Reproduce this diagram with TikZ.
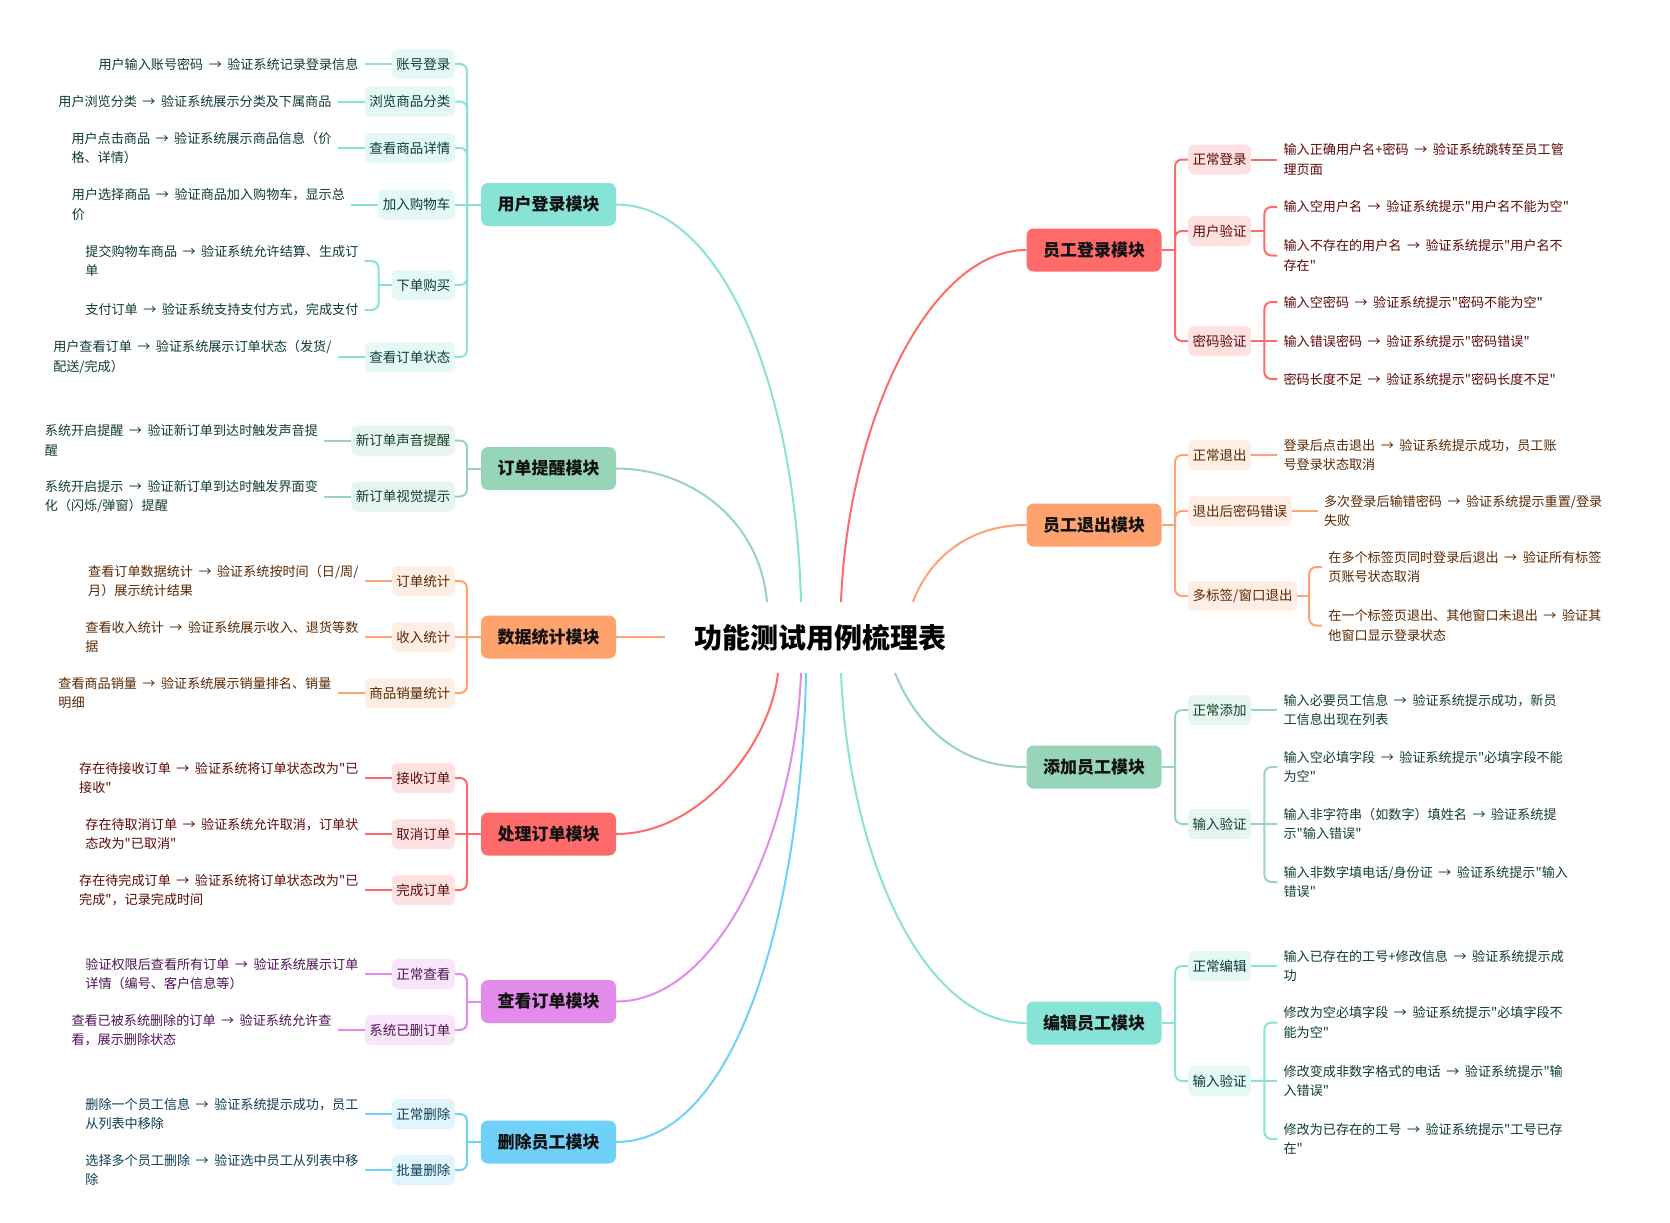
\documentclass[tikz,border=0pt]{standalone}
\usepackage{fontspec}
\setmainfont{Noto Sans CJK SC}[Ligatures=TeXOff]
\usetikzlibrary{calc}
\definecolor{tealL}{HTML}{86E3D6}\definecolor{tealS}{HTML}{E4F8F5}\definecolor{tealT}{HTML}{0D3B36}
\definecolor{greenL}{HTML}{97D5B9}\definecolor{greenS}{HTML}{E6F5EE}\definecolor{greenT}{HTML}{12402C}
\definecolor{orangeL}{HTML}{FFA26E}\definecolor{orangeS}{HTML}{FFEEE4}\definecolor{orangeT}{HTML}{5A2800}
\definecolor{redL}{HTML}{FF6B6B}\definecolor{redS}{HTML}{FFE1E1}\definecolor{redT}{HTML}{5C0A0A}
\definecolor{purpleL}{HTML}{E28BEA}\definecolor{purpleS}{HTML}{FAE6FB}\definecolor{purpleT}{HTML}{4F1157}
\definecolor{blueL}{HTML}{6FD1F7}\definecolor{blueS}{HTML}{E0F5FD}\definecolor{blueT}{HTML}{0C3E55}
\definecolor{modT}{HTML}{111111}
\newcommand\ar{\hspace{5.5pt}→\hspace{5.5pt}}
% left sub node: name, y, colour, label, junction, path op
\newcommand\SubL[6]{%
  \node[subbox, fill=#3S, text=#3T, anchor=east] (#1) at (455,#2) {#4};
  \draw[conline, draw=#3L, rounded corners=7pt] (#5) #6 (#1.east);}
\newcommand\LeafL[3]{%
  \node[leafbox, text=#2T, anchor=east] (#1l) at ([xshift=-27pt]#1.west) {#3};
  \draw[conline, draw=#2L] (#1.west) -- (#1l.east);}
\newcommand\SubR[6]{%
  \node[subbox, fill=#3S, text=#3T, anchor=west] (#1) at (1188,#2) {#4};
  \draw[conline, draw=#3L, rounded corners=7pt] (#5) #6 (#1.west);}
\newcommand\LeafR[3]{%
  \node[leafbox, text=#2T, anchor=west] (#1l) at ([xshift=26pt]#1.east) {#3};
  \draw[conline, draw=#2L] (#1.east) -- (#1l.west);}
% bracket leaves: name, y, colour, text, bracket coordinate, op
\newcommand\BrL[6]{%
  \node[leafbox, text=#3T, anchor=east, xshift=-14pt] (#1) at (#5 |- 0,#2) {#4};
  \draw[conline, draw=#3L, rounded corners=7pt] (#5) #6 (#1.east);}
\newcommand\BrR[6]{%
  \node[leafbox, text=#3T, anchor=west, xshift=13pt] (#1) at (#5 |- 0,#2) {#4};
  \draw[conline, draw=#3L, rounded corners=7pt] (#5) #6 (#1.west);}
\begin{document}
\begin{tikzpicture}[x=1pt,y=-1pt,
  modbox/.style={rounded corners=7pt, minimum width=135pt, minimum height=43pt, inner sep=0pt, text=modT, font=\bfseries\fontsize{17}{20}\selectfont},
  subbox/.style={rounded corners=6pt, minimum height=30pt, inner xsep=4.5pt, inner ysep=0pt, font=\fontsize{13.5}{16}\selectfont},
  leafbox/.style={align=left, inner xsep=6pt, inner ysep=0pt, font=\fontsize{13.1}{19.5}\selectfont},
  conline/.style={line width=2pt}]
\useasboundingbox (0,0) rectangle (1670,1223);
\fill[white] (0,0) rectangle (1670,1223);

% root
\node[font=\bfseries\fontsize{28}{32}\selectfont, text=black] (root) at (820,638) {功能测试用例梳理表};

% modules
\node[modbox, fill=tealL] (m1) at (548.5,204.5) {用户登录模块};
\node[modbox, fill=greenL] (m2) at (548.5,468.5) {订单提醒模块};
\node[modbox, fill=orangeL] (m3) at (548.5,637) {数据统计模块};
\node[modbox, fill=redL] (m4) at (548.5,834) {处理订单模块};
\node[modbox, fill=purpleL] (m5) at (548.5,1001.5) {查看订单模块};
\node[modbox, fill=blueL] (m6) at (548.5,1142) {删除员工模块};
\node[modbox, fill=redL] (n1) at (1094,250) {员工登录模块};
\node[modbox, fill=orangeL] (n2) at (1094,525) {员工退出模块};
\node[modbox, fill=greenL] (n3) at (1094,767) {添加员工模块};
\node[modbox, fill=tealL] (n4) at (1094,1023) {编辑员工模块};

% root connector ends
\coordinate (t1) at (801,602);
\coordinate (t2) at (767,602);
\coordinate (t3) at (665,637);
\coordinate (t4) at (778,673);
\coordinate (t5) at (801,673);
\coordinate (t6) at (806,673);
\coordinate (u1) at (841,602);
\coordinate (u2) at (913,602);
\coordinate (u3) at (895,673);
\coordinate (u4) at (841,673);
\draw[conline, tealL] (m1.east) .. controls (720,204.5) and (795,380) .. (t1);
\draw[conline, greenL] (m2.east) .. controls (690,468.5) and (760,520) .. (t2);
\draw[conline, orangeL] (m3.east) -- (t3);
\draw[conline, redL] (m4.east) .. controls (700,834) and (770,745) .. (t4);
\draw[conline, purpleL] (m5.east) .. controls (720,1001.5) and (795,830) .. (t5);
\draw[conline, blueL] (m6.east) .. controls (740,1142) and (802,900) .. (t6);
\draw[conline, redL] (n1.west) .. controls (930,250) and (848,420) .. (u1);
\draw[conline, orangeL] (n2.west) .. controls (960,525) and (925,568) .. (u2);
\draw[conline, greenL] (n3.west) .. controls (950,767) and (912,715) .. (u3);
\draw[conline, tealL] (n4.west) .. controls (920,1023) and (848,850) .. (u4);

% junctions
\coordinate (j1) at (467,204.5);
\coordinate (j2) at (467,468.5);
\coordinate (j3) at (467,637);
\coordinate (j4) at (467,834);
\coordinate (j5) at (467,1001.5);
\coordinate (j6) at (467,1142);
\coordinate (k1) at (1175,250);
\coordinate (k2) at (1175,525);
\coordinate (k3) at (1175,767);
\coordinate (k4) at (1175,1023);
\draw[conline, tealL] (m1.west) -- (j1);
\draw[conline, greenL] (m2.west) -- (j2);
\draw[conline, orangeL] (m3.west) -- (j3);
\draw[conline, redL] (m4.west) -- (j4);
\draw[conline, purpleL] (m5.west) -- (j5);
\draw[conline, blueL] (m6.west) -- (j6);
\draw[conline, redL] (n1.east) -- (k1);
\draw[conline, orangeL] (n2.east) -- (k2);
\draw[conline, greenL] (n3.east) -- (k3);
\draw[conline, tealL] (n4.east) -- (k4);

% ---- 用户登录模块
\SubL{s11}{64}{teal}{账号登录}{j1}{|-}
\LeafL{s11}{teal}{用户输入账号密码\ar 验证系统记录登录信息}
\SubL{s12}{101.5}{teal}{浏览商品分类}{j1}{|-}
\LeafL{s12}{teal}{用户浏览分类\ar 验证系统展示分类及下属商品}
\SubL{s13}{148}{teal}{查看商品详情}{j1}{|-}
\LeafL{s13}{teal}{用户点击商品\ar 验证系统展示商品信息（价\\格、详情）}
\SubL{s14}{204.5}{teal}{加入购物车}{j1}{--}
\LeafL{s14}{teal}{用户选择商品\ar 验证商品加入购物车，显示总\\价}
\SubL{s15}{285}{teal}{下单购买}{j1}{|-}
\coordinate (s15b) at ([xshift=-13pt]s15.west);
\draw[conline, tealL] (s15.west) -- (s15b);
\BrL{s15a}{261}{teal}{提交购物车商品\ar 验证系统允许结算、生成订\\单}{s15b}{|-}
\BrL{s15c}{310}{teal}{支付订单\ar 验证系统支持支付方式，完成支付}{s15b}{|-}
\SubL{s16}{357}{teal}{查看订单状态}{j1}{|-}
\LeafL{s16}{teal}{用户查看订单\ar 验证系统展示订单状态（发货/\\配送/完成）}

% ---- 订单提醒模块
\SubL{s21}{440.5}{green}{新订单声音提醒}{j2}{|-}
\LeafL{s21}{green}{系统开启提醒\ar 验证新订单到达时触发声音提\\醒}
\SubL{s22}{496.5}{green}{新订单视觉提示}{j2}{|-}
\LeafL{s22}{green}{系统开启提示\ar 验证新订单到达时触发界面变\\化（闪烁/弹窗）提醒}

% ---- 数据统计模块
\SubL{s31}{581}{orange}{订单统计}{j3}{|-}
\LeafL{s31}{orange}{查看订单数据统计\ar 验证系统按时间（日/周/\\月）展示统计结果}
\SubL{s32}{637}{orange}{收入统计}{j3}{--}
\LeafL{s32}{orange}{查看收入统计\ar 验证系统展示收入、退货等数\\据}
\SubL{s33}{693}{orange}{商品销量统计}{j3}{|-}
\LeafL{s33}{orange}{查看商品销量\ar 验证系统展示销量排名、销量\\明细}

% ---- 处理订单模块
\SubL{s41}{778}{red}{接收订单}{j4}{|-}
\LeafL{s41}{red}{存在待接收订单\ar 验证系统将订单状态改为"已\\接收"}
\SubL{s42}{834}{red}{取消订单}{j4}{--}
\LeafL{s42}{red}{存在待取消订单\ar 验证系统允许取消，订单状\\态改为"已取消"}
\SubL{s43}{890}{red}{完成订单}{j4}{|-}
\LeafL{s43}{red}{存在待完成订单\ar 验证系统将订单状态改为"已\\完成"，记录完成时间}

% ---- 查看订单模块
\SubL{s51}{974}{purple}{正常查看}{j5}{|-}
\LeafL{s51}{purple}{验证权限后查看所有订单\ar 验证系统展示订单\\详情（编号、客户信息等）}
\SubL{s52}{1030}{purple}{系统已删订单}{j5}{|-}
\LeafL{s52}{purple}{查看已被系统删除的订单\ar 验证系统允许查\\看，展示删除状态}

% ---- 删除员工模块
\SubL{s61}{1114}{blue}{正常删除}{j6}{|-}
\LeafL{s61}{blue}{删除一个员工信息\ar 验证系统提示成功，员工\\从列表中移除}
\SubL{s62}{1170}{blue}{批量删除}{j6}{|-}
\LeafL{s62}{blue}{选择多个员工删除\ar 验证选中员工从列表中移\\除}

% ---- 员工登录模块
\SubR{r11}{159.5}{red}{正常登录}{k1}{|-}
\LeafR{r11}{red}{输入正确用户名+密码\ar 验证系统跳转至员工管\\理页面}
\SubR{r12}{231}{red}{用户验证}{k1}{|-}
\coordinate (r12b) at ([xshift=13pt]r12.east);
\draw[conline, redL] (r12.east) -- (r12b);
\BrR{r12a}{207}{red}{输入空用户名\ar 验证系统提示"用户名不能为空"}{r12b}{|-}
\BrR{r12c}{255.5}{red}{输入不存在的用户名\ar 验证系统提示"用户名不\\存在"}{r12b}{|-}
\SubR{r13}{341}{red}{密码验证}{k1}{|-}
\coordinate (r13b) at ([xshift=13pt]r13.east);
\draw[conline, redL] (r13.east) -- (r13b);
\BrR{r13a}{302}{red}{输入空密码\ar 验证系统提示"密码不能为空"}{r13b}{|-}
\BrR{r13c}{341}{red}{输入错误密码\ar 验证系统提示"密码错误"}{r13b}{--}
\BrR{r13d}{379}{red}{密码长度不足\ar 验证系统提示"密码长度不足"}{r13b}{|-}

% ---- 员工退出模块
\SubR{r21}{455}{orange}{正常退出}{k2}{|-}
\LeafR{r21}{orange}{登录后点击退出\ar 验证系统提示成功，员工账\\号登录状态取消}
\SubR{r22}{511}{orange}{退出后密码错误}{k2}{|-}
\LeafR{r22}{orange}{多次登录后输错密码\ar 验证系统提示重置/登录\\失败}
\SubR{r23}{596}{orange}{多标签/窗口退出}{k2}{|-}
\coordinate (r23b) at ([xshift=12pt]r23.east);
\draw[conline, orangeL] (r23.east) -- (r23b);
\BrR{r23a}{567}{orange}{在多个标签页同时登录后退出\ar 验证所有标签\\页账号状态取消}{r23b}{|-}
\BrR{r23c}{625.5}{orange}{在一个标签页退出、其他窗口未退出\ar 验证其\\他窗口显示登录状态}{r23b}{|-}

% ---- 添加员工模块
\SubR{r31}{710}{green}{正常添加}{k3}{|-}
\LeafR{r31}{green}{输入必要员工信息\ar 验证系统提示成功，新员\\工信息出现在列表}
\SubR{r32}{824}{green}{输入验证}{k3}{|-}
\coordinate (r32b) at ([xshift=13pt]r32.east);
\draw[conline, greenL] (r32.east) -- (r32b);
\BrR{r32a}{767}{green}{输入空必填字段\ar 验证系统提示"必填字段不能\\为空"}{r32b}{|-}
\BrR{r32c}{824}{green}{输入非字符串（如数字）填姓名\ar 验证系统提\\示"输入错误"}{r32b}{--}
\BrR{r32d}{882}{green}{输入非数字填电话/身份证\ar 验证系统提示"输入\\错误"}{r32b}{|-}

% ---- 编辑员工模块
\SubR{r41}{966}{teal}{正常编辑}{k4}{|-}
\LeafR{r41}{teal}{输入已存在的工号+修改信息\ar 验证系统提示成\\功}
\SubR{r42}{1081}{teal}{输入验证}{k4}{|-}
\coordinate (r42b) at ([xshift=13pt]r42.east);
\draw[conline, tealL] (r42.east) -- (r42b);
\BrR{r42a}{1022.5}{teal}{修改为空必填字段\ar 验证系统提示"必填字段不\\能为空"}{r42b}{|-}
\BrR{r42c}{1081}{teal}{修改变成非数字格式的电话\ar 验证系统提示"输\\入错误"}{r42b}{--}
\BrR{r42d}{1139}{teal}{修改为已存在的工号\ar 验证系统提示"工号已存\\在"}{r42b}{|-}
\end{tikzpicture}
\end{document}
